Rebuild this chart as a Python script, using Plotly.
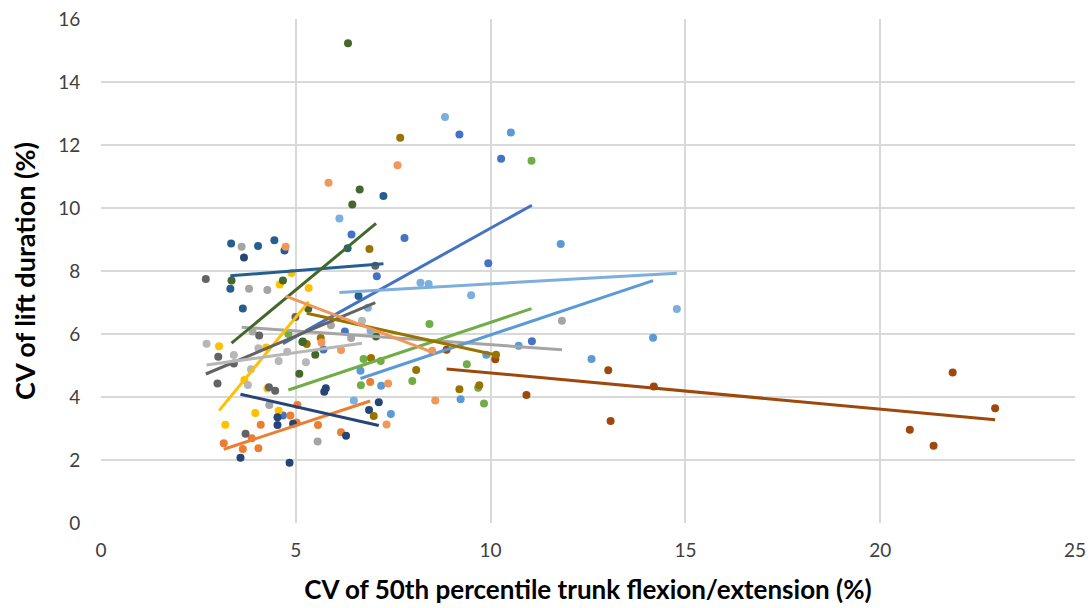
import plotly.graph_objects as go

# Series data (x = CV of 50th percentile trunk flexion/extension %, y = CV of lift duration %)
s_blue_x = [6.43, 7.79, 7.08, 6.26, 5.71, 4.67, 9.20, 10.27, 9.94, 11.06]
s_blue_y = [9.16, 9.05, 7.83, 6.08, 5.51, 3.41, 12.33, 11.56, 8.25, 5.77]

s_orange_x = [3.15, 3.64, 4.04, 3.87, 4.10, 4.86, 5.02, 5.04, 5.57, 6.16, 6.91]
s_orange_y = [2.53, 2.35, 2.37, 2.69, 3.12, 3.41, 3.19, 3.75, 3.11, 2.88, 4.48]

s_gray_x = [3.61, 3.80, 4.27, 3.89, 4.32, 5.56, 5.90, 6.42, 11.83]
s_gray_y = [8.77, 7.44, 7.40, 6.08, 3.75, 2.59, 6.28, 5.87, 6.42]

s_gold_x = [4.89, 4.59, 5.33, 3.03, 4.24, 3.68, 4.27, 3.96, 4.56, 3.19]
s_gold_y = [7.94, 7.57, 7.46, 5.61, 5.57, 4.54, 4.27, 3.49, 3.56, 3.12]

s_ltblue_x = [10.52, 11.80, 14.17, 12.59, 10.72, 6.66, 7.19, 7.44, 9.23, 9.89]
s_ltblue_y = [12.40, 8.86, 5.88, 5.21, 5.63, 4.83, 4.36, 3.46, 3.93, 5.34]

s_green_x = [4.81, 6.74, 7.18, 6.67, 7.99, 8.43, 9.39, 9.68, 9.83, 11.05]
s_green_y = [6.00, 5.21, 5.14, 4.37, 4.51, 6.32, 5.04, 4.29, 3.79, 11.50]

s_dkblue_x = [3.67, 3.58, 4.53, 4.53, 4.93, 4.84, 5.77, 5.73, 7.13, 6.88, 6.29]
s_dkblue_y = [8.43, 2.07, 3.36, 3.11, 3.15, 1.91, 4.28, 4.17, 3.83, 3.59, 2.77]

s_brown_x = [8.87, 10.12, 10.92, 13.02, 14.19, 13.08, 20.76, 21.37, 21.86, 22.95]
s_brown_y = [5.50, 5.20, 4.06, 4.85, 4.33, 3.24, 2.96, 2.45, 4.78, 3.64]

s_dkgray_x = [2.69, 4.06, 4.99, 7.04, 3.01, 3.41, 2.99, 4.31, 4.47, 3.71]
s_dkgray_y = [7.75, 5.95, 6.54, 8.17, 5.28, 5.06, 4.43, 4.31, 4.20, 2.83]

s_dkgold_x = [7.68, 6.89, 5.64, 5.28, 6.93, 7.00, 8.09, 9.20, 9.71, 10.14]
s_dkgold_y = [12.23, 8.70, 5.87, 5.68, 5.24, 3.40, 4.86, 4.25, 4.37, 5.34]

s_steel_x = [3.34, 4.03, 4.45, 4.71, 3.32, 3.64, 6.33, 6.61, 7.25]
s_steel_y = [8.87, 8.79, 8.98, 8.65, 7.44, 6.81, 8.72, 7.21, 10.38]

s_dkgreen_x = [6.34, 6.64, 6.45, 3.35, 4.67, 5.32, 5.17, 7.06, 5.18, 5.50, 5.09]
s_dkgreen_y = [15.23, 10.59, 10.11, 7.70, 7.70, 6.80, 5.75, 5.92, 5.76, 5.34, 4.74]

s_ltorange_x = [4.74, 5.84, 7.61, 5.66, 6.16, 7.37, 7.33, 8.50, 8.58]
s_ltorange_y = [8.77, 10.80, 11.36, 5.73, 5.49, 4.43, 3.13, 5.47, 3.89]

s_ltgray_x = [2.71, 3.41, 4.04, 4.78, 4.56, 5.26, 3.85, 3.77, 6.70]
s_ltgray_y = [5.69, 5.33, 5.55, 5.44, 5.14, 5.10, 4.88, 4.38, 6.42]

s_paleblue_x = [6.12, 8.83, 8.20, 8.41, 9.50, 14.78, 6.85, 6.92, 6.49]
s_paleblue_y = [9.67, 12.89, 7.63, 7.59, 7.23, 6.79, 6.83, 6.10, 3.89]

# Linear trendline coefficients (slope, intercept)
trend_slope = [0.688, 0.407, -0.0871, 1.504, 0.414, 0.414, -0.280, -0.1148,
               0.5205, -0.2716, 0.0962, 1.024, -0.474, 0.1746, 0.0703]
trend_intercept = [2.48, 1.06, 6.53, -0.99, 1.83, 2.23, 5.09, 5.91,
                   3.33, 8.09, 7.53, 2.28, 9.45, 4.54, 6.89]

series = [
    (s_blue_x, s_blue_y, "#4472C4"),
    (s_orange_x, s_orange_y, "#ED7D31"),
    (s_gray_x, s_gray_y, "#A5A5A5"),
    (s_gold_x, s_gold_y, "#FFC000"),
    (s_ltblue_x, s_ltblue_y, "#5B9BD5"),
    (s_green_x, s_green_y, "#70AD47"),
    (s_dkblue_x, s_dkblue_y, "#264478"),
    (s_brown_x, s_brown_y, "#9E480E"),
    (s_dkgray_x, s_dkgray_y, "#636363"),
    (s_dkgold_x, s_dkgold_y, "#997300"),
    (s_steel_x, s_steel_y, "#255E91"),
    (s_dkgreen_x, s_dkgreen_y, "#43682B"),
    (s_ltorange_x, s_ltorange_y, "#F1975A"),
    (s_ltgray_x, s_ltgray_y, "#B7B7B7"),
    (s_paleblue_x, s_paleblue_y, "#7CAFDD"),
]

x_ticks = [0, 5, 10, 15, 20, 25]
y_ticks = [0, 2, 4, 6, 8, 10, 12, 14, 16]

fig = go.Figure()
for xs, ys, col in series:
    fig.add_trace(go.Scatter(x=xs, y=ys, mode="markers",
                             marker=dict(color=col, size=8, line=dict(width=0)),
                             showlegend=False, hoverinfo="skip"))
for (xs, ys, col), m, b in zip(series, trend_slope, trend_intercept):
    x0, x1 = min(xs), max(xs)
    fig.add_trace(go.Scatter(x=[x0, x1], y=[m * x0 + b, m * x1 + b], mode="lines",
                             line=dict(color=col, width=3),
                             showlegend=False, hoverinfo="skip"))

fig.update_layout(
    width=1091, height=608,
    margin=dict(l=101, r=16, t=19, b=85),
    paper_bgcolor="white", plot_bgcolor="white",
    font=dict(family="Lato, Open Sans, sans-serif", color="#404040", size=19),
    xaxis=dict(range=[0, 25], tickvals=x_ticks, showgrid=True, gridcolor="#D9D9D9",
               gridwidth=1.5, zeroline=False, showline=False, automargin=False,
               ticks="outside", ticklen=10, tickcolor="rgba(0,0,0,0)",
               title=dict(text="<b>CV of 50th percentile trunk flexion/extension (%)</b>",
                          font=dict(size=26, color="#000000"), standoff=21)),
    yaxis=dict(range=[0, 16], tickvals=y_ticks, showgrid=True, gridcolor="#D9D9D9",
               gridwidth=1.5, zeroline=False, showline=False, automargin=False,
               ticks="outside", ticklen=16, tickcolor="rgba(0,0,0,0)",
               title=dict(text="<b>CV of lift duration (%)</b>",
                          font=dict(size=27, color="#000000"), standoff=14)),
)

fig.write_html("out.html")
